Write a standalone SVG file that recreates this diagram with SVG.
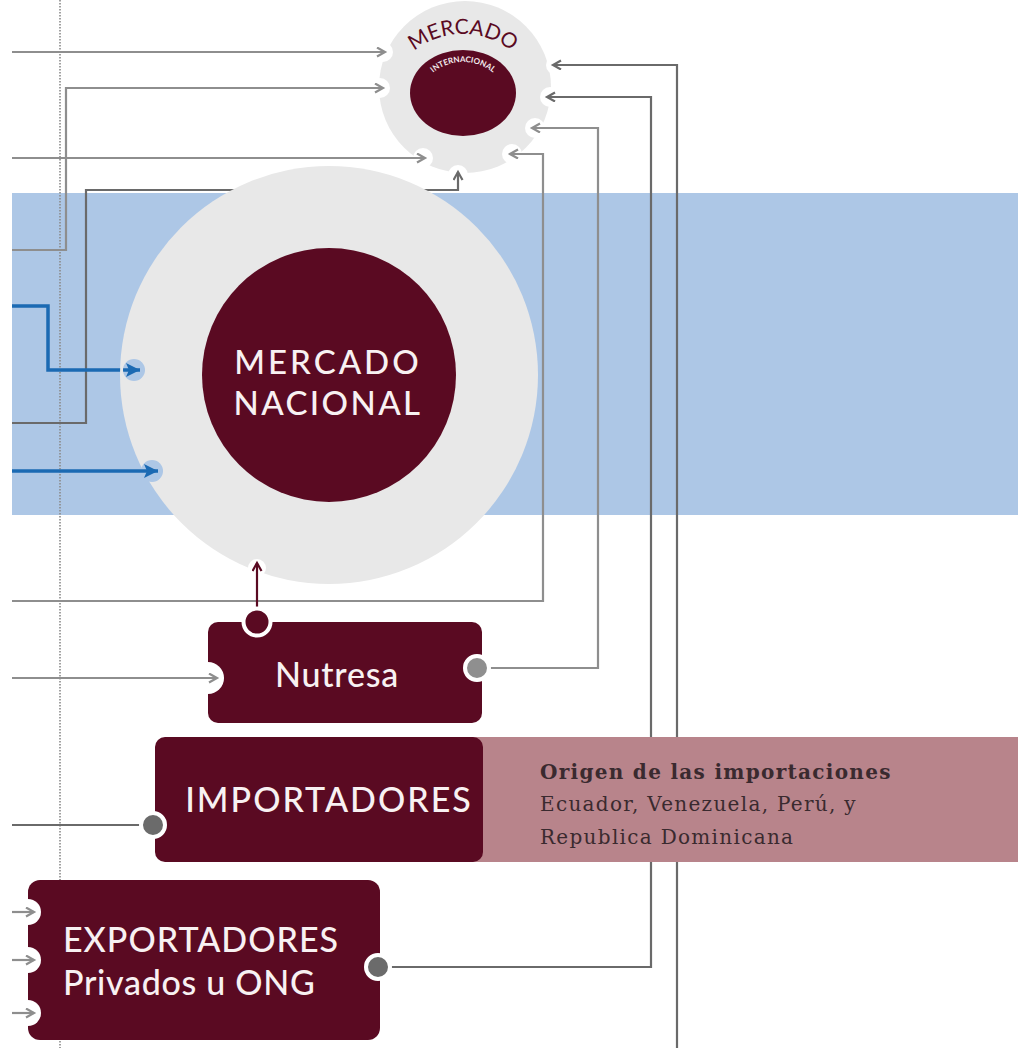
<svg xmlns="http://www.w3.org/2000/svg" width="1018" height="1048" viewBox="0 0 1018 1048">
<style>
.ln{fill:none;stroke:#8e8e8e;stroke-width:2.2}
.dk{fill:none;stroke:#6a6a6a;stroke-width:2.2}
.bl{fill:none;stroke:#1b6ab3;stroke-width:3.5}
.mr{fill:#5a0a22}
.lbl{font-family:Lato,"Open Sans",sans-serif;fill:#f8f1f2;font-weight:500}
.ser{font-family:"DejaVu Serif","Liberation Serif",serif;fill:#3a2a2f;font-size:20px;letter-spacing:1.3px}
</style>
<defs>
<marker id="ag" markerUnits="userSpaceOnUse" markerWidth="12" markerHeight="12" refX="9" refY="5" orient="auto">
<path d="M1,0.5 L9,5 L1,9.5" fill="none" stroke="#8e8e8e" stroke-width="2.2"/>
</marker>
<marker id="ad" markerUnits="userSpaceOnUse" markerWidth="12" markerHeight="12" refX="9" refY="5" orient="auto">
<path d="M1,0.5 L9,5 L1,9.5" fill="none" stroke="#6a6a6a" stroke-width="2.2"/>
</marker>
<marker id="am" markerUnits="userSpaceOnUse" markerWidth="12" markerHeight="12" refX="9" refY="5" orient="auto">
<path d="M1,0.5 L9,5 L1,9.5" fill="none" stroke="#5a0a22" stroke-width="2.2"/>
</marker>
<marker id="ab" markerUnits="userSpaceOnUse" markerWidth="16" markerHeight="14" refX="14" refY="7" orient="auto">
<path d="M0,0 L14,7 L0,14 L3,7 z" fill="#1b6ab3"/>
</marker>
<mask id="mNac" maskUnits="userSpaceOnUse" x="0" y="0" width="1018" height="1048">
<rect width="1018" height="1048" fill="#fff"/>
<circle cx="134" cy="370" r="11" fill="#000"/>
<circle cx="152" cy="471" r="11" fill="#000"/>
<circle cx="257" cy="568" r="9" fill="#000"/>
</mask>
<mask id="mInt" maskUnits="userSpaceOnUse" x="0" y="0" width="1018" height="1048">
<rect width="1018" height="1048" fill="#fff"/>
<circle cx="383" cy="52" r="10" fill="#000"/>
<circle cx="380" cy="88" r="10" fill="#000"/>
<circle cx="423" cy="158" r="10" fill="#000"/>
<circle cx="458" cy="175" r="10" fill="#000"/>
<circle cx="556" cy="65" r="10" fill="#000"/>
<circle cx="550" cy="97" r="10" fill="#000"/>
<circle cx="535" cy="128" r="10" fill="#000"/>
<circle cx="512" cy="154" r="10" fill="#000"/>
</mask>
<mask id="mNut" maskUnits="userSpaceOnUse" x="0" y="0" width="1018" height="1048">
<rect width="1018" height="1048" fill="#fff"/>
<circle cx="208" cy="678" r="16" fill="#000"/>
</mask>
<mask id="mExp" maskUnits="userSpaceOnUse" x="0" y="0" width="1018" height="1048">
<rect width="1018" height="1048" fill="#fff"/>
<circle cx="28" cy="912" r="13" fill="#000"/>
<circle cx="28" cy="960" r="13" fill="#000"/>
<circle cx="28" cy="1013" r="13" fill="#000"/>
</mask>
<path id="arcMer" d="M385,112 A78,78 0 0 1 541,112"/>
<path id="arcInt" d="M421,98 A42,36 0 0 1 505,98"/>
</defs>
<rect width="1018" height="1048" fill="#fff"/>
<rect x="12" y="193" width="1006" height="322" fill="#adc7e6"/>
<line x1="60" y1="0" x2="60" y2="1048" stroke="#8a8a8a" stroke-width="1.6" stroke-dasharray="1.5 1.5"/>

<g id="connectors">
<path class="ln" d="M12,52 H385" marker-end="url(#ag)"/>
<path class="ln" d="M12,250 H66 V88 H383" marker-end="url(#ag)"/>
<path class="ln" d="M12,158 H425" marker-end="url(#ag)"/>
<path class="dk" d="M12,423 H86 V190 H458 V172" marker-end="url(#ad)"/>
<path class="bl" d="M12,306 H48 V370 H140" marker-end="url(#ab)"/>
<path class="bl" d="M12,471 H158" marker-end="url(#ab)"/>
<path class="ln" d="M12,601 H543 V154 H510" marker-end="url(#ag)"/>
<path fill="none" stroke="#5a0a22" stroke-width="2.2" d="M257,622 V563" marker-end="url(#am)"/>
<path class="ln" d="M12,678 H217" marker-end="url(#ag)"/>
<path class="ln" d="M477,668 H598 V128 H532" marker-end="url(#ag)"/>
<path class="dk" d="M12,825 H153"/>
<path class="ln" d="M12,912 H34" marker-end="url(#ag)"/>
<path class="ln" d="M12,960 H34" marker-end="url(#ag)"/>
<path class="ln" d="M12,1013 H34" marker-end="url(#ag)"/>
<path class="dk" d="M378,967 H651 V97 H547" marker-end="url(#ad)"/>
<path class="dk" d="M677,1048 V65 H553" marker-end="url(#ad)"/>
</g>

<g id="mercado-nacional">
<circle cx="329" cy="375" r="209" fill="#e8e8e8" mask="url(#mNac)"/>
<circle cx="329" cy="375" r="127" class="mr"/>
<text class="lbl" x="328" y="374" font-size="33" letter-spacing="3" text-anchor="middle">MERCADO</text>
<text class="lbl" x="328" y="415" font-size="33" letter-spacing="2.4" text-anchor="middle">NACIONAL</text>
</g>

<g id="mercado-internacional">
<circle cx="465" cy="87" r="86" fill="#e8e8e8" mask="url(#mInt)"/>
<ellipse cx="463" cy="93" rx="53" ry="43" class="mr"/>
<text font-family="Lato,'Open Sans',sans-serif" font-size="21" fill="#5a0a22" text-anchor="middle"><textPath href="#arcMer" startOffset="50%">MERCADO</textPath></text>
<text font-family="Lato,'Open Sans',sans-serif" font-size="8" font-weight="700" fill="#f4eaee" text-anchor="middle"><textPath href="#arcInt" startOffset="50%">INTERNACIONAL</textPath></text>
</g>

<g id="nutresa">
<rect x="208" y="622" width="274" height="101" rx="10" class="mr" mask="url(#mNut)"/>
<circle cx="257" cy="622" r="13.5" class="mr" stroke="#fff" stroke-width="4"/>
<circle cx="477" cy="668" r="12" fill="#8f8f8f" stroke="#fff" stroke-width="4"/>
<text class="lbl" x="337" y="687" font-size="34" letter-spacing="0.8" text-anchor="middle">Nutresa</text>
</g>

<g id="importadores">
<rect x="470" y="737" width="548" height="125" fill="#b8848b"/>
<rect x="155" y="737" width="328" height="125" rx="10" class="mr"/>
<circle cx="153" cy="825" r="12" fill="#6b6b6b" stroke="#fff" stroke-width="4"/>
<text class="lbl" x="329" y="812" font-size="34" letter-spacing="2" text-anchor="middle">IMPORTADORES</text>
<text class="ser" x="540" y="779" font-weight="700" letter-spacing="0.6">Origen de las importaciones</text>
<text class="ser" x="540" y="811">Ecuador, Venezuela, Perú, y</text>
<text class="ser" x="540" y="844">Republica Dominicana</text>
</g>

<g id="exportadores">
<rect x="28" y="880" width="352" height="160" rx="12" class="mr" mask="url(#mExp)"/>
<circle cx="378" cy="967" r="12" fill="#6b6b6b" stroke="#fff" stroke-width="4"/>
<text class="lbl" x="63" y="952" font-size="34" letter-spacing="1">EXPORTADORES</text>
<text class="lbl" x="63" y="995" font-size="34" letter-spacing="0.7">Privados u ONG</text>
</g>
</svg>
